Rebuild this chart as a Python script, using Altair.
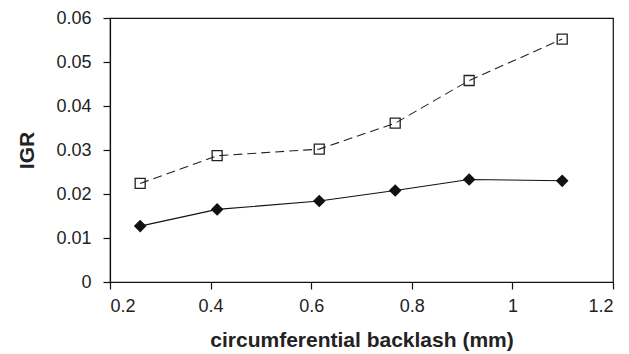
import altair as alt
import pandas as pd

# circumferential backlash (mm)
backlash = [0.26, 0.413, 0.616, 0.767, 0.914, 1.099]
# IGR for the two configurations
igr_open = [0.0224, 0.0287, 0.0302, 0.0361, 0.0458, 0.0552]
igr_filled = [0.0127, 0.0165, 0.0184, 0.0208, 0.0233, 0.0230]

df_open = pd.DataFrame({"x": backlash, "y": igr_open})
df_filled = pd.DataFrame({"x": backlash, "y": igr_filled})

FONT = "Liberation Sans"

x_enc = alt.X(
    "x:Q",
    scale=alt.Scale(domain=[0.2, 1.2], nice=False, zero=False),
    axis=alt.Axis(
        title="circumferential backlash (mm)",
        values=[0.2, 0.4, 0.6, 0.8, 1.0, 1.2],
        labelExpr="datum.value == 1 ? '1' : format(datum.value, '.1f')",
        grid=False,
        tickSize=7,
        labelPadding=8,
        titlePadding=14,
    ),
)
y_enc = alt.Y(
    "y:Q",
    scale=alt.Scale(domain=[0, 0.06], nice=False),
    axis=alt.Axis(
        title="IGR",
        values=[0, 0.01, 0.02, 0.03, 0.04, 0.05, 0.06],
        labelExpr="datum.value == 0 ? '0' : format(datum.value, '.2f')",
        grid=False,
        tickSize=7,
        labelPadding=12,
        titlePadding=18,
    ),
)

open_line = alt.Chart(df_open).mark_line(
    color="#222222", strokeWidth=1.1, strokeDash=[9, 5]
).encode(x=x_enc, y=y_enc)

open_pts = alt.Chart(df_open).mark_point(
    shape="square", size=100, filled=False, color="#222222", strokeWidth=1.3, opacity=1
).encode(x="x:Q", y="y:Q")

filled_line = alt.Chart(df_filled).mark_line(
    color="#111111", strokeWidth=1.1
).encode(x="x:Q", y="y:Q")

filled_pts = alt.Chart(df_filled).mark_point(
    shape="diamond", size=160, filled=True, color="#111111", opacity=1
).encode(x="x:Q", y="y:Q")

chart = (
    alt.layer(open_line, open_pts, filled_line, filled_pts)
    .properties(
        width=503,
        height=264,
        background="white",
        autosize=alt.AutoSizeParams(type="none"),
        padding={"left": 110, "top": 18, "right": 16, "bottom": 72},
    )
    .configure_view(stroke="#111111", strokeWidth=1.2)
    .configure_axis(
        domainColor="#111111",
        domainWidth=1.2,
        tickColor="#111111",
        tickWidth=1.2,
        labelFont=FONT,
        labelFontSize=18,
        labelColor="#222222",
        titleFont=FONT,
        titleFontSize=21,
        titleFontWeight="bold",
        titleColor="#222222",
    )
)

chart.save("out.html", embed_options={"renderer": "svg", "actions": False})
